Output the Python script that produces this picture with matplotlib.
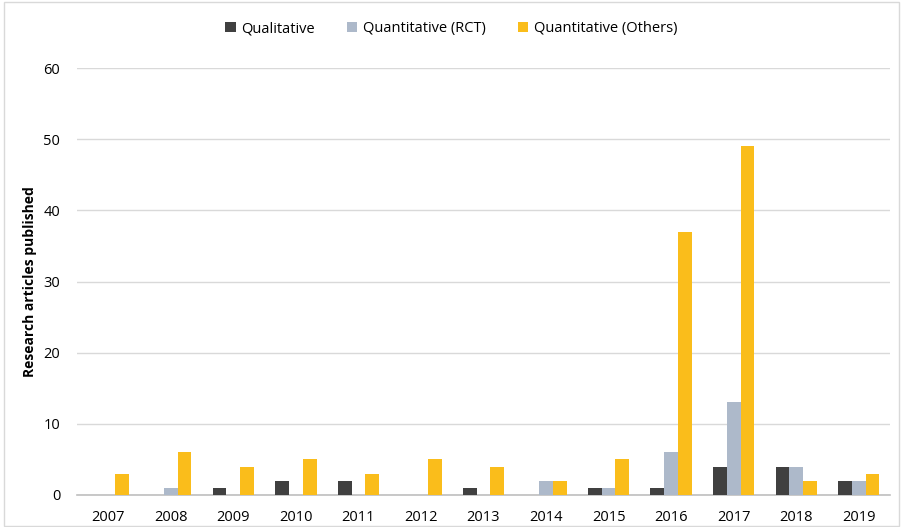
import matplotlib
matplotlib.use("Agg")
from matplotlib import pyplot as plt
import numpy as np

# data
years = ['2007', '2008', '2009', '2010', '2011', '2012', '2013',
         '2014', '2015', '2016', '2017', '2018', '2019']
qualitative = [0, 0, 1, 2, 2, 0, 1, 0, 1, 1, 4, 4, 2]
quant_rct = [0, 1, 0, 0, 0, 0, 0, 2, 1, 6, 13, 4, 2]
quant_others = [3, 6, 4, 5, 3, 5, 4, 2, 5, 37, 49, 2, 3]

plt.rcParams['font.family'] = ['Open Sans', 'DejaVu Sans']

fig = plt.figure(figsize=(9.03, 5.27), dpi=100)
# place axes so that 0 -> y=495px and 60 -> y=68px
ax = fig.add_axes([77 / 903, 1 - 495 / 527, (890 - 77) / 903, (495 - 68) / 527])

x = np.arange(len(years))
w = 0.22
ax.bar(x - w, qualitative, w, color='#404040', label='Qualitative', zorder=3)
ax.bar(x, quant_rct, w, color='#ADB9CA', label='Quantitative (RCT)', zorder=3)
ax.bar(x + w, quant_others, w, color='#FABD1B', label='Quantitative (Others)', zorder=3)

ax.set_xlim(-0.5, len(years) - 0.5)
ax.set_ylim(0, 60)
ax.set_yticks(range(0, 61, 10))
ax.set_xticks(x)
ax.set_xticklabels(years)
ax.tick_params(axis='both', length=0, labelsize=10.5, colors='#000000')
ax.tick_params(axis='x', pad=11)
ax.tick_params(axis='y', pad=12)
ax.grid(axis='y', color='#D9D9D9', linewidth=1, zorder=0)
for s in ['top', 'right', 'left']:
    ax.spines[s].set_visible(False)
ax.spines['bottom'].set_color('#BFBFBF')
ax.spines['bottom'].set_linewidth(1.2)

ax.set_ylabel('Research articles published', fontsize=10, fontweight='bold', labelpad=5)

fig.legend(loc='upper center', bbox_to_anchor=(0.5, 0.985), ncol=3, frameon=False,
           fontsize=10.5, handlelength=0.7, handleheight=0.7, columnspacing=2.2,
           handletextpad=0.4)

# light chart border
fig.patches.append(plt.Rectangle((0.004, 0.002), 0.992, 0.994, transform=fig.transFigure,
                                 fill=False, edgecolor='#D9D9D9', linewidth=1))

fig.savefig('out.png', dpi=100)
